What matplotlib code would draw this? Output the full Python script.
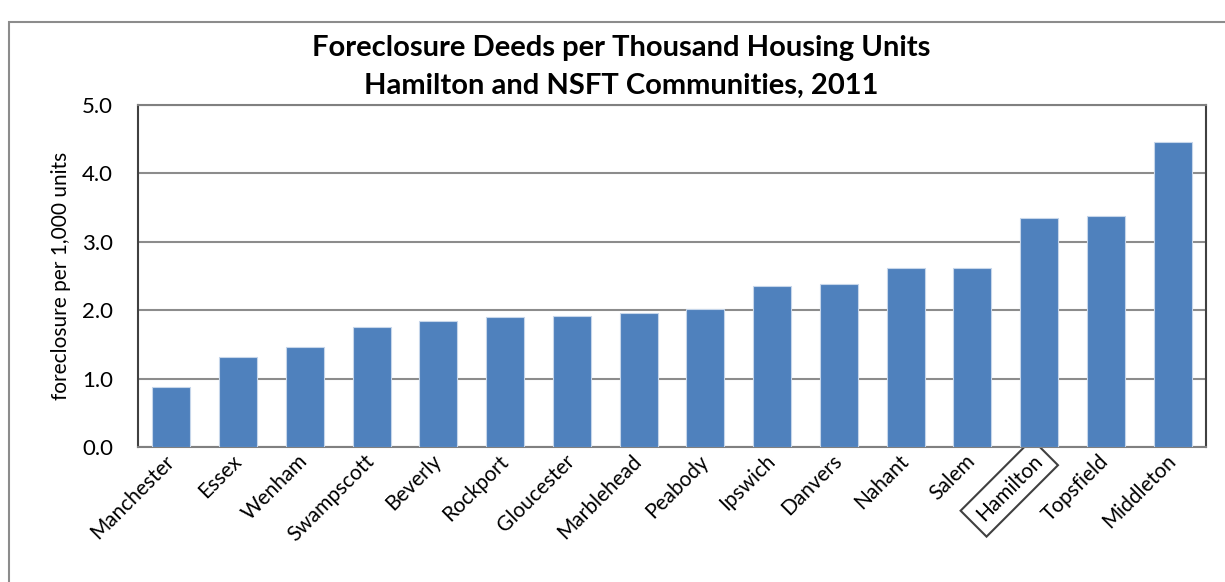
import matplotlib
matplotlib.use("Agg")
import matplotlib.pyplot as plt
from matplotlib.patches import Rectangle

# Excel-style palette
BAR = "#4F81BD"
GRID = "#8C8C8C"
INK = "#000000"

plt.rcParams.update({
    "font.family": ["Lato", "DejaVu Sans"],
    "text.color": INK,
})

towns = ["Manchester", "Essex", "Wenham", "Swampscott", "Beverly", "Rockport",
         "Gloucester", "Marblehead", "Peabody", "Ipswich", "Danvers", "Nahant",
         "Salem", "Hamilton", "Topsfield", "Middleton"]
rates = [0.87, 1.31, 1.46, 1.75, 1.84, 1.90, 1.92, 1.96, 2.02, 2.35, 2.38,
         2.61, 2.62, 3.35, 3.38, 4.46]
yticks = [0.0, 1.0, 2.0, 3.0, 4.0, 5.0]

fig = plt.figure(figsize=(12.25, 5.82), dpi=100)
ax = fig.add_axes([138 / 1225, 1 - 447 / 582, (1206 - 138) / 1225, (447 - 105) / 582])

# outer chart border (Excel chart area)
fig.patches.append(Rectangle((9 / 1225, -0.05), 1.1, 1 - 22 / 582 + 0.05,
                             transform=fig.transFigure, fill=False,
                             edgecolor="#8C8C8C", linewidth=1.5))

xs = list(range(len(towns)))
ax.bar(xs, rates, width=0.57, color=BAR, edgecolor="#C6D6EA", linewidth=0.8, zorder=3)

ax.set_xlim(-0.5, len(towns) - 0.5)
ax.set_ylim(0, 5)
ax.set_yticks(yticks)
ax.set_yticklabels([f"{v:.1f}" for v in yticks], fontsize=16)
ax.grid(axis="y", color=GRID, linewidth=1.5, zorder=0)
ax.tick_params(axis="y", length=0, pad=18)
ax.tick_params(axis="x", length=0, pad=8)

ax.set_xticks(xs)
ax.set_xticklabels(towns, fontsize=15, rotation=45, ha="right",
                   rotation_mode="anchor", va="center")
for lbl in ax.get_xticklabels():
    if lbl.get_text() == "Hamilton":
        lbl.set_bbox(dict(boxstyle="square,pad=0.4", facecolor="none",
                          edgecolor="#404040", linewidth=1.5))

for side in ["left", "right"]:
    ax.spines[side].set_color("#404040")
    ax.spines[side].set_linewidth(1.5)
for side in ["top", "bottom"]:
    ax.spines[side].set_color("#808080")
    ax.spines[side].set_linewidth(1.5)

ax.set_ylabel("foreclosure per 1,000 units", fontsize=15, labelpad=8)

fig.text(621 / 1225, 1 - 48 / 582, "Foreclosure Deeds per Thousand Housing Units",
         ha="center", va="center", fontsize=21, fontweight="bold")
fig.text(621 / 1225, 1 - 86 / 582, "Hamilton and NSFT Communities, 2011",
         ha="center", va="center", fontsize=21, fontweight="bold")

fig.savefig("out.png", dpi=100, facecolor="white")
